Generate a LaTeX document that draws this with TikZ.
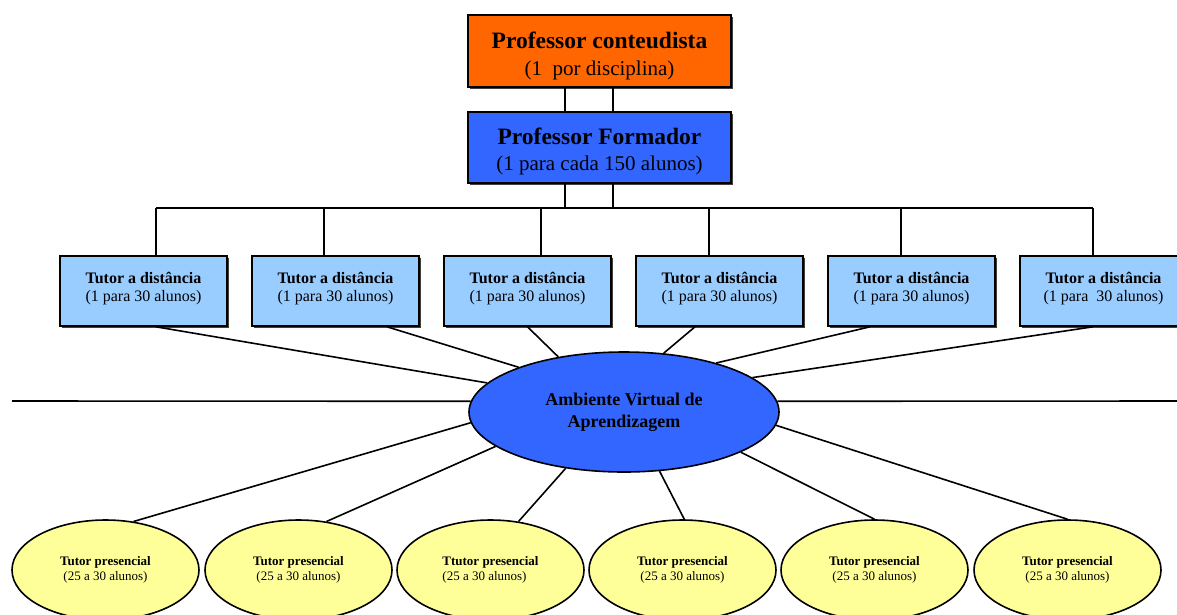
\documentclass[tikz,border=0pt]{standalone}
\usepackage{fontspec}
\setmainfont{Liberation Serif}
\usetikzlibrary{shapes.geometric,shadows}
\definecolor{laranja}{HTML}{FF6600}
\definecolor{azul}{HTML}{3366FF}
\definecolor{azulclaro}{HTML}{99CCFF}
\definecolor{amarelo}{HTML}{FFFF99}
\begin{document}
\begin{tikzpicture}[x=1pt, y=-1pt, line width=1.6pt,
		caixa/.style={draw, rectangle, align=center, inner sep=0pt,
			drop shadow={shadow xshift=2pt, shadow yshift=-2pt, fill=black!75, opacity=1}},
		tutordist/.style={caixa, fill=azulclaro, minimum width=167, minimum height=70, text depth=9pt,
			font=\fontsize{16}{18}\selectfont},
		tutorpres/.style={draw, ellipse, fill=amarelo, minimum width=187, minimum height=100, inner sep=0pt,
			align=center, font=\fontsize{13}{15}\selectfont}]
				\useasboundingbox (0, 0) rectangle (1177, 614);
				\clip (0, 0) rectangle (1177, 614);
				\node[caixa, fill=laranja, minimum width=263, minimum height=72, text height=53pt, font=\fontsize{21}{27}\selectfont] (conteudista) at (599.5, 51) {\textbf{\fontsize{23.5}{27}\selectfont Professor conteudista}\\(1~ por disciplina)};
				\node[caixa, fill=azul, minimum width=263, minimum height=71, text height=51pt, font=\fontsize{21}{26}\selectfont] (formador) at (599.5, 147.5) {\textbf{\fontsize{23.5}{26}\selectfont Professor Formador}\\(1 para cada 150 alunos)};
				\node[tutordist] (dist1) at (143.5, 291) {\textbf{Tutor a distância}\\(1 para 30 alunos)};
				\node[tutordist] (dist2) at (335.5, 291) {\textbf{Tutor a distância}\\(1 para 30 alunos)};
				\node[tutordist] (dist3) at (527.5, 291) {\textbf{Tutor a distância}\\(1 para 30 alunos)};
				\node[tutordist] (dist4) at (719.5, 291) {\textbf{Tutor a distância}\\(1 para 30 alunos)};
				\node[tutordist] (dist5) at (911.5, 291) {\textbf{Tutor a distância}\\(1 para 30 alunos)};
				\node[tutordist] (dist6) at (1103.5, 291) {\textbf{Tutor a distância}\\(1 para~ 30 alunos)};
				\node[draw, ellipse, fill=azul, minimum width=310, minimum height=120, inner sep=0pt, align=center,
					font=\fontsize{18}{22}\selectfont\bfseries] (ava) at (624, 412) {Ambiente Virtual de\\Aprendizagem};
				\begin{scope}[every node/.style=tutorpres]
					\node (pres1) at (105.5, 570) {\textbf{Tutor presencial}\\(25 a 30 alunos)};
					\node (pres2) at (298.5, 570) {\textbf{Tutor presencial}\\(25 a 30 alunos)};
					\node[align=left] (pres3) at (490.5, 570) {\textbf{Ttutor presencial}\\(25 a 30 alunos)};
					\node (pres4) at (682.5, 570) {\textbf{Tutor presencial}\\(25 a 30 alunos)};
					\node (pres5) at (874.5, 570) {\textbf{Tutor presencial}\\(25 a 30 alunos)};
					\node (pres6) at (1067.5, 570) {\textbf{Tutor presencial}\\(25 a 30 alunos)};
				\end{scope}
				% hierarquia
				\coordinate (barra) at (599.5, 208);
				\path ([xshift=-34.5]conteudista.south) edge ([xshift=-34.5]formador.north);
				\path ([xshift=13.5]conteudista.south) edge ([xshift=13.5]formador.north);
				\path ([xshift=-34.5]formador.south) edge ([xshift=-34.5]formador.south |- barra);
				\path ([xshift=13.5]formador.south) edge ([xshift=13.5]formador.south |- barra);
				\path ([xshift=12.5]dist1.north |- barra) edge ([xshift=-10.5]dist6.north |- barra);
				\path ([xshift=12.5]dist1.north) edge ([xshift=12.5]dist1.north |- barra);
				\path ([xshift=-11.5]dist2.north) edge ([xshift=-11.5]dist2.north |- barra);
				\path ([xshift=13.5]dist3.north) edge ([xshift=13.5]dist3.north |- barra);
				\path ([xshift=-10.5]dist4.north) edge ([xshift=-10.5]dist4.north |- barra);
				\path ([xshift=-10.5]dist5.north) edge ([xshift=-10.5]dist5.north |- barra);
				\path ([xshift=-10.5]dist6.north) edge ([xshift=-10.5]dist6.north |- barra);
				% tutores a distancia - ambiente
				\path ([xshift=12.5]dist1.south) edge (ava.168);
				\path ([xshift=51.5]dist2.south) edge (ava.157.5);
				\path (dist3.south) edge (ava.140.6);
				\path ([xshift=-24.5]dist4.south) edge (ava.56);
				\path ([xshift=-41.5]dist5.south) edge (ava.28.8);
				\path ([xshift=-10.5]dist6.south) edge (ava.15.2);
				% linha horizontal
				\coordinate (margemE) at (12, 401);
				\coordinate (margemD) at (1177, 401);
				\path (margemE) edge (ava.176);
				\path (ava.4) edge (margemD);
				% ambiente - tutores presenciais
				\path (ava.184.4) edge (pres1.60);
				\path (ava.195.3) edge (pres2.60);
				\path (ava.224.5) edge (pres3.60);
				\path (ava.301) edge (pres4.88);
				\path (ava.341.6) edge (pres5.north);
				\path (ava.355.6) edge (pres6.north);
\end{tikzpicture}
\end{document}
